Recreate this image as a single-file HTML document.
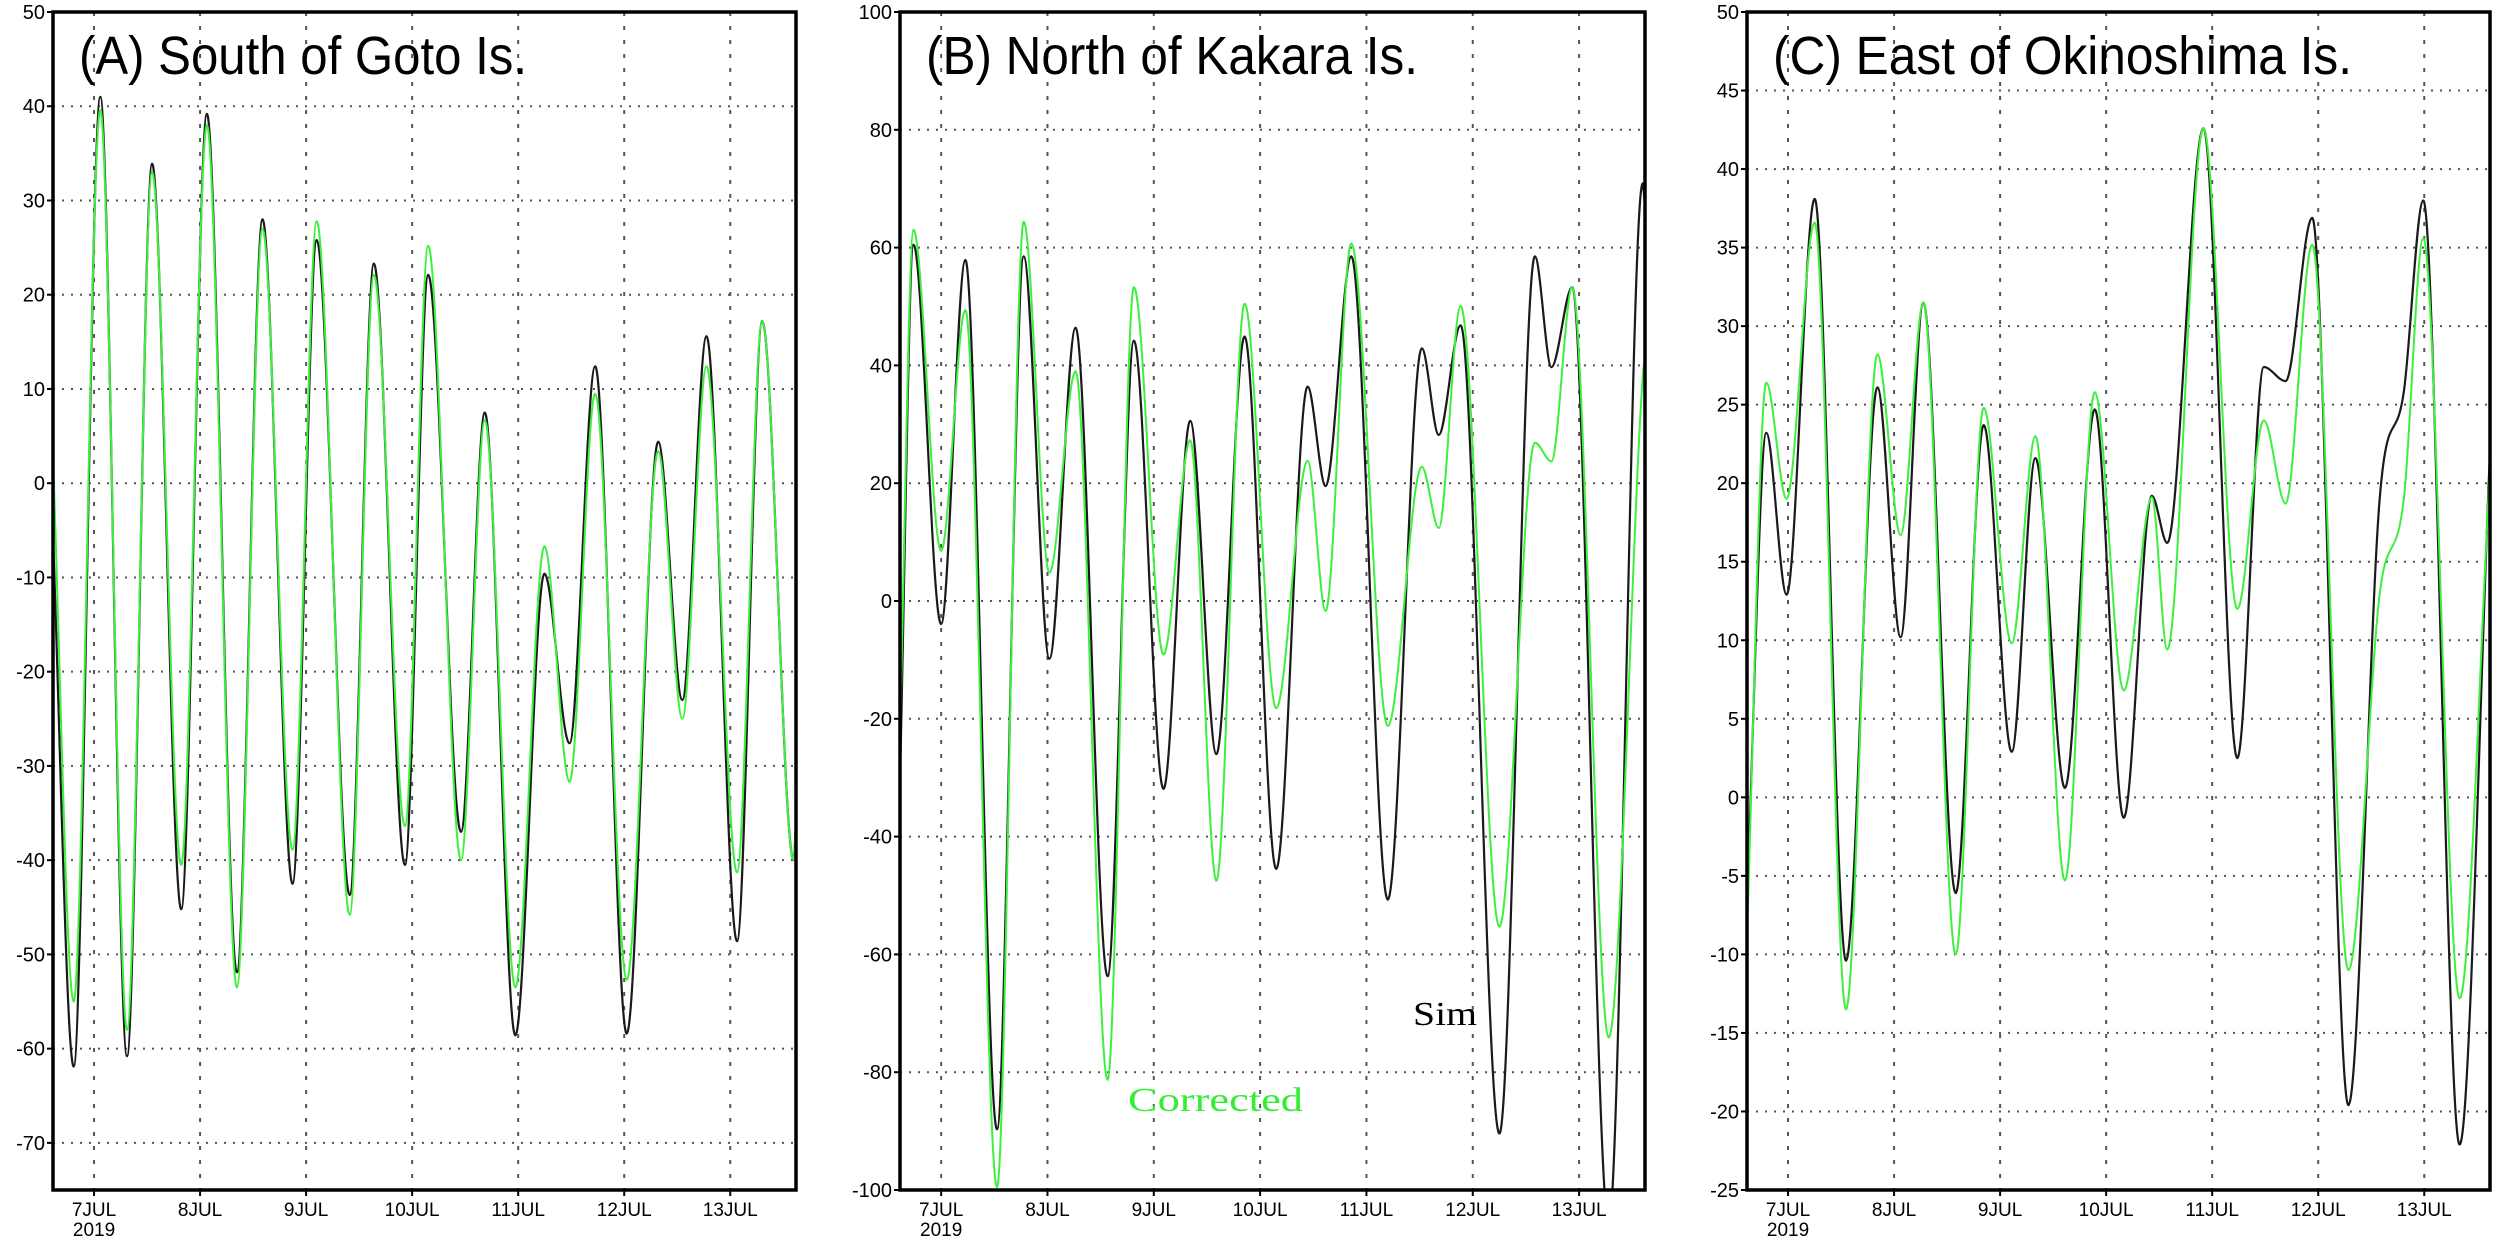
<!DOCTYPE html>
<html><head><meta charset="utf-8"><style>
html,body{margin:0;padding:0;background:#fff;}
svg{display:block;}
text{font-family:"Liberation Sans",sans-serif;}
</style></head><body>
<svg id="chart" width="2500" height="1241" viewBox="0 0 2500 1241" xmlns="http://www.w3.org/2000/svg"></svg>
<script>
// ---- Panel A data ----
const timesA = [6.612,6.808,7.059,7.311,7.548,7.822,8.064,8.347,8.589,8.872,9.100,9.411,9.639,9.932,10.151,10.461,10.685,10.973,11.247,11.484,11.726,12.023,12.320,12.548,12.776,13.064,13.301,13.598,13.62];
const simA = [-5.5,-61.9,41,-60.8,33.9,-45.2,39.2,-51.9,28,-42.5,25.8,-43.7,23.3,-40.5,22.1,-37,7.5,-58.6,-9.6,-27.6,12.4,-58.4,4.4,-23,15.6,-48.6,17.2,-40,-36];
const corA = [2.8,-55,39.6,-58,33,-40.5,38,-53.5,27,-38.9,27.8,-45.8,22.1,-36.4,25.2,-40,6.7,-53.5,-6.7,-31.7,9.5,-52.7,3.4,-25,12.4,-41.3,17.2,-40,-36];
const ticksA = [50,40,30,20,10,0,-10,-20,-30,-40,-50,-60,-70];
// ---- Panel B data ----
const timesB = [6.612,6.740,7.000,7.228,7.525,7.776,8.018,8.265,8.566,8.813,9.091,9.342,9.589,9.854,10.151,10.447,10.616,10.858,11.201,11.521,11.680,11.886,12.251,12.584,12.740,12.936,13.279,13.598,13.62];
const simB = [-30.6,60.5,-3.9,57.9,-89.7,58.5,-9.8,46.4,-63.7,44.2,-31.9,30.6,-26,44.9,-45.5,36.4,19.5,58.5,-50.7,42.9,28.2,46.8,-90.4,58.5,39.7,53.3,-106,70.9,67];
const corB = [-22.7,63,8.5,49.4,-99.5,64.4,4.8,39,-81.3,53.3,-9.1,27.3,-47.5,50.5,-18.2,23.8,-1.7,60.7,-21.2,22.8,12.4,50.1,-55.3,26.9,23.7,53.3,-74.1,38,41.6];
const ticksB = [100,80,60,40,20,0,-20,-40,-60,-80,-100];
// ---- Panel C data ----
const timesC = [6.613,6.795,6.986,7.251,7.547,7.843,8.062,8.276,8.581,8.845,9.109,9.333,9.611,9.893,10.166,10.431,10.576,10.918,11.237,11.487,11.692,11.943,12.285,12.581,12.809,12.991,13.333,13.620];
const simC = [-6.7,23.2,12.9,38.1,-10.4,26.1,10.2,31.5,-6.1,23.7,2.9,21.6,0.6,24.7,-1.3,19.2,16.2,42.6,2.5,27.4,26.5,36.9,-19.6,19.1,25.9,38,-22.1,22];
const corC = [-8.7,26.4,19,36.6,-13.5,28.2,16.7,31.5,-10,24.8,9.8,23,-5.3,25.8,6.8,19.1,9.4,42.6,12,24,18.7,35.2,-11,13,19.1,35.6,-12.8,20.9];
const ticksC = [50,45,40,35,30,25,20,15,10,5,0,-5,-10,-15,-20,-25];
// ---- shared x axis ----
const dayTicks = [7,8,9,10,11,12,13];
const dayLabels = ["7JUL","8JUL","9JUL","10JUL","11JUL","12JUL","13JUL"];
const T0 = 6.613, T1 = 13.62;

const NS = "http://www.w3.org/2000/svg";
const svg = document.getElementById('chart');
function mk(tag, attrs, parent){
  const e = document.createElementNS(NS, tag);
  for (const k in attrs) e.setAttribute(k, attrs[k]);
  (parent||svg).appendChild(e);
  return e;
}
function monoPath(xs, ys){
  const n = xs.length, d = [], m = [];
  for (let i=0;i<n-1;i++) d.push((ys[i+1]-ys[i])/(xs[i+1]-xs[i]));
  for (let i=0;i<n;i++){
    if (i===0) m.push(d[0]); else if (i===n-1) m.push(d[n-2]);
    else m.push(d[i-1]*d[i] <= 0 ? 0 : (d[i-1]+d[i])/2);
  }
  let p = "M" + xs[0].toFixed(1) + "," + ys[0].toFixed(1);
  for (let i=0;i<n-1;i++){
    const h = xs[i+1]-xs[i];
    p += " C" + (xs[i]+h/3).toFixed(1) + "," + (ys[i]+m[i]*h/3).toFixed(1) + " " +
         (xs[i+1]-h/3).toFixed(1) + "," + (ys[i+1]-m[i+1]*h/3).toFixed(1) + " " +
         xs[i+1].toFixed(1) + "," + ys[i+1].toFixed(1);
  }
  return p;
}

function panel(id, x0, x1, y0, y1, vmax, vmin, ticks, times, sim, cor, title, titleW){
  const g = mk('g', {});
  
  
  const xs = t => x0 + (t - T0) / (T1 - T0) * (x1 - x0);
  const ys = v => y0 + (vmax - v) / (vmax - vmin) * (y1 - y0);
  const clip = mk('clipPath', {id: 'clip-' + id}, g);
  mk('rect', {x: x0, y: y0, width: x1 - x0, height: y1 - y0}, clip);
  // grid
  ticks.forEach(v => {
    const y = ys(v);
    if (v !== vmax && v !== vmin) {
      const l = mk('line', {x1: x0, x2: x1, y1: y, y2: y, stroke: '#555', 'stroke-width': 2, 'stroke-dasharray': '2 7'}, g);
      
      
    }
    const tk = mk('line', {x1: x0 - 6, x2: x0, y1: y, y2: y, stroke: '#000', 'stroke-width': 2}, g);
    
    
    const t = mk('text', {x: x0 - 8, y: y + 7, 'text-anchor': 'end', 'font-size': 20}, g);
    
    
    t.textContent = String(v);
  });
  dayTicks.forEach((d, i) => {
    const x = xs(d);
    const l = mk('line', {x1: x, x2: x, y1: y0, y2: y1, stroke: '#555', 'stroke-width': 2, 'stroke-dasharray': '4 10'}, g);
    
    
    const tk = mk('line', {x1: x, x2: x, y1: y1, y2: y1 + 6, stroke: '#000', 'stroke-width': 2}, g);
    
    
    const t = mk('text', {x: x, y: y1 + 26, 'text-anchor': 'middle', 'font-size': 19}, g);
    
    
    t.textContent = dayLabels[i];
  });
  const yr = mk('text', {x: xs(dayTicks[0]), y: y1 + 46, 'text-anchor': 'middle', 'font-size': 19}, g);
  
  
  yr.textContent = '2019';
  // series
  const px = times.map(xs);
  const s = mk('path', {d: monoPath(px, sim.map(ys)), fill: 'none', stroke: '#1a1a1a', 'stroke-width': 2.2, 'clip-path': 'url(#clip-' + id + ')'}, g);
  
  
  const c = mk('path', {d: monoPath(px, cor.map(ys)), fill: 'none', stroke: '#3ef03e', 'stroke-width': 2, 'clip-path': 'url(#clip-' + id + ')'}, g);
  
  
  // frame
  const f = mk('rect', {x: x0, y: y0, width: x1 - x0, height: y1 - y0, fill: 'none', stroke: '#000', 'stroke-width': 3.5}, g);
  
  
  const tt = mk('text', {x: x0 + 26, y: 74, 'font-size': 54, textLength: titleW, lengthAdjust: 'spacingAndGlyphs'}, g);
  
  
  tt.textContent = title;
}

panel('a', 53, 796, 12, 1190, 50, -75, ticksA, timesA, simA, corA, '(A) South of Goto Is.', 448);
panel('b', 900, 1645, 12, 1190, 100, -100, ticksB, timesB, simB, corB, '(B) North of Kakara Is.', 492);
panel('c', 1747, 2490, 12, 1190, 50, -25, ticksC, timesC, simC, corC, '(C) East of Okinoshima Is.', 579);

const sl = mk('text', {x: 1413, y: 1025, 'font-size': 34, fill: '#000', textLength: 64, lengthAdjust: 'spacingAndGlyphs', style: 'font-family:"Liberation Serif",serif'});


sl.textContent = 'Sim';
const cl = mk('text', {x: 1128, y: 1111, 'font-size': 34, fill: '#33ee33', textLength: 175, lengthAdjust: 'spacingAndGlyphs', style: 'font-family:"Liberation Serif",serif'});


cl.textContent = 'Corrected';
</script>
</body></html>
